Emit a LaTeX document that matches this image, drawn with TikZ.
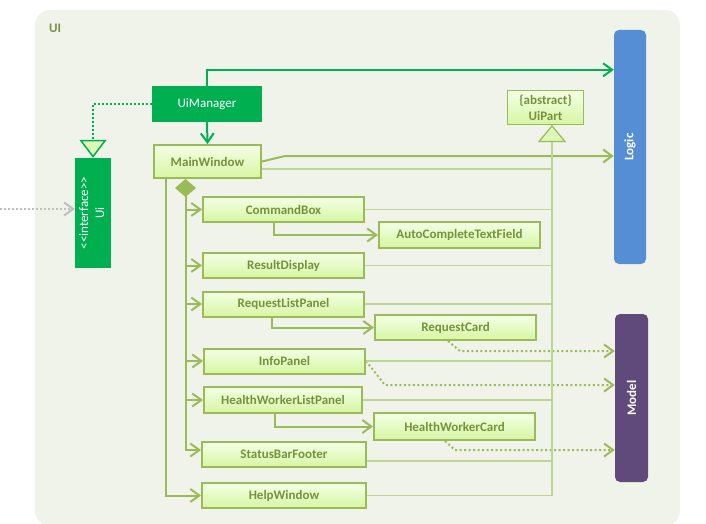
\documentclass[tikz,border=0pt]{standalone}
\usepackage{fontspec}
\setmainfont{Carlito}
\usepackage{graphicx}
\usetikzlibrary{arrows.meta}

\definecolor{uibg}{RGB}{240,243,233}
\definecolor{uigreen}{RGB}{0,176,80}
\definecolor{partborder}{RGB}{155,187,89}
\definecolor{parttext}{RGB}{118,146,60}
\definecolor{parttop}{RGB}{244,255,230}
\definecolor{partbottom}{RGB}{214,246,162}
\definecolor{inherit}{RGB}{192,213,148}
\definecolor{trifill}{RGB}{222,248,184}
\definecolor{logicblue}{RGB}{85,142,213}
\definecolor{modelpurple}{RGB}{96,74,123}
\definecolor{extgray}{RGB}{191,191,191}

\tikzset{
  compbox/.style={draw=partborder, line width=2pt, top color=parttop, bottom color=partbottom,
    text=parttext, font=\fontsize{13}{15}\selectfont\bfseries,
    minimum width=161pt, minimum height=25pt, inner sep=0pt},
  layerbox/.style={rounded corners=5pt, text=white, font=\fontsize{13}{15}\selectfont\bfseries, inner sep=0pt},
  calls/.style={draw=uigreen, line width=2pt, -{Straight Barb[length=9pt,width=13pt]}},
  owns/.style={draw=partborder, line width=2pt, -{Straight Barb[length=9pt,width=13pt]}},
  usesmodel/.style={owns, dash pattern=on 2pt off 2.5pt},
  extends/.style={draw=inherit, line width=1.5pt},
}

\begin{document}
\begin{tikzpicture}[x=1pt, y=-1pt] %ui
            \useasboundingbox (0,0) rectangle (706,524);
            \clip (0,0) rectangle (706,524);
            \fill[uibg, rounded corners=15pt] (35,10) rectangle (680,526);

            \node[anchor=west, text=parttext, font=\fontsize{13}{15}\selectfont\bfseries, inner sep=0pt] (uititle) at (49,28) {UI};

            \node[fill=uigreen, text=white, font=\fontsize{13}{15}\selectfont, minimum width=110pt, minimum height=36pt, inner sep=0pt] (UiManager) at (207,104) {UiManager};
            \node[fill=uigreen, text=white, font=\fontsize{13}{16}\selectfont, minimum width=36pt, minimum height=110pt, inner sep=0pt] (Ui) at (93,213) {\rotatebox{90}{\begin{tabular}{@{}c@{}}<{}<interface>{}>\\Ui\end{tabular}}};
            \node[layerbox, fill=logicblue, minimum width=32pt, minimum height=234pt] (Logic) at (630,147) {\rotatebox{90}{Logic}};
            \node[layerbox, fill=modelpurple, minimum width=33pt, minimum height=168pt] (Model) at (631.5,398) {\rotatebox{90}{Model}};
            \node[compbox, line width=1pt, minimum width=76pt, minimum height=34pt, align=center, font=\fontsize{13}{16}\selectfont\bfseries] (UiPart) at (545.5,107.5) {\{abstract\}\\UiPart};

            \node[compbox, minimum width=107pt, minimum height=33pt] (MainWindow) at (207.5,161.5) {MainWindow};
            \node[compbox] (CommandBox) at (283.5,209.5) {CommandBox};
            \node[compbox, minimum height=26pt] (AutoCompleteTextField) at (459.5,235) {AutoCompleteTextField};
            \node[compbox] (ResultDisplay) at (283.5,265.5) {ResultDisplay};
            \node[compbox] (RequestListPanel) at (283.5,304) {RequestListPanel};
            \node[compbox] (RequestCard) at (455.5,327.5) {RequestCard};
            \node[compbox] (InfoPanel) at (284.5,361) {InfoPanel};
            \node[compbox, minimum width=158pt, minimum height=26pt] (HealthWorkerListPanel) at (283,400) {HealthWorkerListPanel};
            \node[compbox, minimum height=27pt] (HealthWorkerCard) at (454.5,426.5) {HealthWorkerCard};
            \node[compbox, minimum width=164pt] (StatusBarFooter) at (284,454.5) {StatusBarFooter};
            \node[compbox, minimum width=164pt] (HelpWindow) at (284,495.5) {HelpWindow};

            % UiManager
            \draw[calls] (UiManager.north) -- ++(0,-16) coordinate (umtop) -- (umtop -| Logic.west);
            \draw[calls] (UiManager.south) -- (MainWindow.north);
            \draw[draw=uigreen, line width=2pt, dash pattern=on 2pt off 2pt, -{Triangle[length=18pt,width=27pt,fill=trifill,line width=1.5pt]}] (UiManager.west) -| (Ui.north);
            \coordinate (outside) at (0,209);
            \draw[draw=extgray, line width=2pt, dash pattern=on 2pt off 2pt, -{Straight Barb[length=9pt,width=13pt]}] (outside) -- (outside -| Ui.west);

            % MainWindow
            \draw[owns] (MainWindow.east) -- ++(23,-5.5) coordinate (mwbend) -- (mwbend -| Logic.west);
            \coordinate (own) at ([xshift=-22pt]MainWindow.south);
            \coordinate (help) at ([xshift=-41.5pt]MainWindow.south);
            \draw[owns, {Diamond[length=18pt,width=21pt,fill=partborder]}-{Straight Barb[length=9pt,width=13pt]}] (own) |- ([yshift=4.5pt]StatusBarFooter.west);
            \draw[owns] (own |- CommandBox.west) -- (CommandBox.west);
            \draw[owns] (own |- ResultDisplay.west) -- (ResultDisplay.west);
            \draw[owns] (own |- RequestListPanel.west) -- (RequestListPanel.west);
            \draw[owns] (own |- InfoPanel.west) -- (InfoPanel.west);
            \draw[owns] (own |- HealthWorkerListPanel.west) -- (HealthWorkerListPanel.west);
            \draw[owns] (help) |- (HelpWindow.west);

            \draw[owns] ([xshift=-9.5pt]CommandBox.south) |- (AutoCompleteTextField.west);
            \draw[owns] ([xshift=-11.5pt]RequestListPanel.south) |- (RequestCard.west);
            \draw[owns] ([xshift=-8pt]HealthWorkerListPanel.south) |- (HealthWorkerCard.west);

            % Model
            \draw[usesmodel] ([xshift=-7.5pt]RequestCard.south) -- ++(12,10) coordinate (rcbend) -- (rcbend -| Model.west);
            \draw[usesmodel] (InfoPanel.east) -- ++(19,24) coordinate (ipbend) -- (ipbend -| Model.west);
            \draw[usesmodel] ([xshift=-9.5pt]HealthWorkerCard.south) -- ++(10,9) coordinate (hwbend) -- (hwbend -| Model.west);

            % UiPart
            \coordinate (pin) at ([xshift=6.5pt]UiPart.south);
            \draw[extends] ([yshift=-7.5pt]MainWindow.east) coordinate (mwpart) -- (mwpart -| pin);
            \draw[extends] (CommandBox.east) -- (CommandBox.east -| pin);
            \draw[extends] (ResultDisplay.east) -- (ResultDisplay.east -| pin);
            \draw[extends] (RequestListPanel.east) -- (RequestListPanel.east -| pin);
            \draw[extends] (InfoPanel.east) -- (InfoPanel.east -| pin);
            \draw[extends] (HealthWorkerListPanel.east) -- (HealthWorkerListPanel.east -| pin);
            \draw[extends] ([yshift=-6.5pt]StatusBarFooter.east) coordinate (sbpart) -- (sbpart -| pin);
            \draw[extends] (HelpWindow.east) -- (HelpWindow.east -| pin);
            \draw[extends, line width=2pt, -{Triangle[length=17pt,width=28pt,color=partborder,fill=trifill,line width=1.2pt]}] (pin |- HelpWindow.east) -- (pin);
\end{tikzpicture}
\end{document}
